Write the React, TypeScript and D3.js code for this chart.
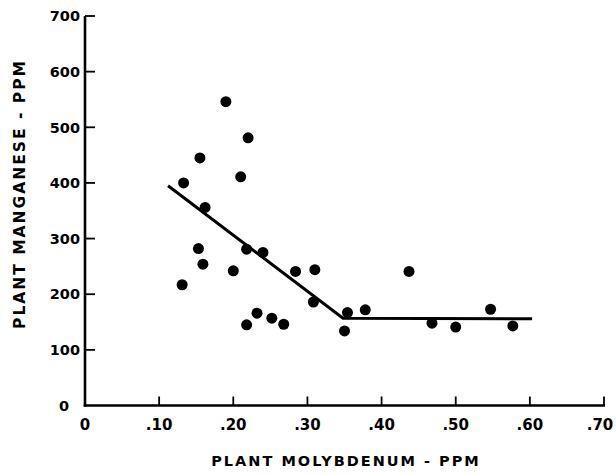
import React from 'react';
import * as d3 from 'd3';

// plant molybdenum (ppm) vs plant manganese (ppm)
const molybdenum = [
  0.19, 0.22, 0.155, 0.21, 0.133, 0.162, 0.153, 0.218, 0.24, 0.159,
  0.20, 0.284, 0.31, 0.131, 0.308, 0.232, 0.252, 0.218, 0.268, 0.354,
  0.35, 0.437, 0.378, 0.547, 0.468, 0.50, 0.577,
];
const manganese = [
  546, 481, 445, 411, 400, 356, 282, 281, 275, 254,
  242, 241, 244, 217, 186, 166, 157, 145, 146, 167,
  134, 241, 172, 173, 148, 141, 143,
];

// broken-line fit drawn through the points
const fitX = [0.112, 0.348, 0.603];
const fitY = [395, 157, 156];

const xTicks = [0, 0.1, 0.2, 0.3, 0.4, 0.5, 0.6, 0.7];
const xTickLabels = ['0', '.10', '.20', '.30', '.40', '.50', '.60', '.70'];
const yTicks = [0, 100, 200, 300, 400, 500, 600, 700];

const width = 616;
const height = 475;
const font = '"DejaVu Sans", "Liberation Sans", sans-serif';

export default function App() {
  const x = d3.scaleLinear().domain([0, 0.7]).range([85, 604]);
  const y = d3.scaleLinear().domain([0, 700]).range([405.5, 16]);

  const line = d3.line<number>()
    .x((d) => x(d))
    .y((d, i) => y(fitY[i]));

  return (
    <svg width={width} height={height} style={{ position: 'absolute', left: 0, top: 0 }}>
      <rect width={width} height={height} fill="#fff" />

      {/* axes */}
      <line x1={x(0)} x2={x(0)} y1={y(0) + 1} y2={y(700)} stroke="#000" strokeWidth={2.6} />
      <line x1={x(0) - 1.3} x2={x(0.7) + 1} y1={y(0)} y2={y(0)} stroke="#000" strokeWidth={2.6} />

      {yTicks.map((t) => (
        <g key={'y' + t}>
          {t > 0 && (
            <line x1={x(0)} x2={x(0) + 10} y1={y(t)} y2={y(t)} stroke="#000" strokeWidth={1.8} />
          )}
          <text
            x={t === 0 ? 69 : 80}
            y={y(t)}
            dy="0.36em"
            textAnchor="end"
            fontFamily={font}
            fontWeight="bold"
            fontSize={14.5}
          >
            {t}
          </text>
        </g>
      ))}

      {xTicks.map((t, i) => (
        <g key={'x' + t}>
          {t > 0 && (
            <line x1={x(t)} x2={x(t)} y1={y(0)} y2={y(0) - 9} stroke="#000" strokeWidth={1.8} />
          )}
          <text
            x={t === 0.7 ? x(t) - 4 : x(t)}
            y={425}
            dy="0.36em"
            textAnchor="middle"
            fontFamily={font}
            fontWeight="bold"
            fontSize={15}
          >
            {xTickLabels[i]}
          </text>
        </g>
      ))}

      {/* axis titles */}
      <text
        x={346}
        y={461}
        dy="0.36em"
        textAnchor="middle"
        fontFamily={font}
        fontWeight="bold"
        fontSize={14.5}
        letterSpacing={2}
      >
        PLANT MOLYBDENUM - PPM
      </text>
      <text
        transform="translate(19,194) rotate(-90)"
        dy="0.36em"
        textAnchor="middle"
        fontFamily={font}
        fontWeight="bold"
        fontSize={15.5}
        letterSpacing={2}
      >
        PLANT MANGANESE - PPM
      </text>

      {/* fitted line */}
      <path d={line(fitX) || ''} fill="none" stroke="#000" strokeWidth={3} />

      {/* points */}
      {molybdenum.map((m, i) => (
        <circle key={i} cx={x(m)} cy={y(manganese[i])} r={5.5} fill="#000" />
      ))}
    </svg>
  );
}
